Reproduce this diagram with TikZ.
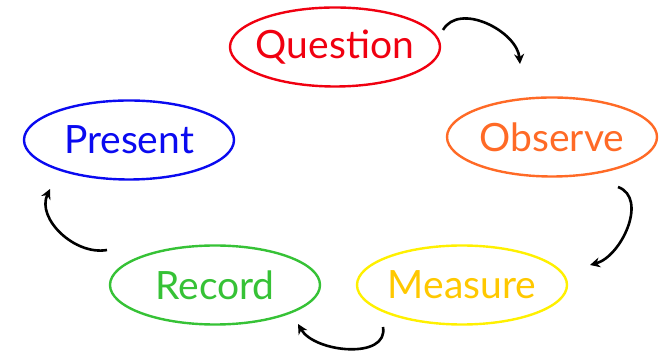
\documentclass[tikz,border=0pt]{standalone}
\usepackage{fontspec}
\setmainfont{Lato}
\usepackage{tikz}
\usetikzlibrary{positioning,arrows.meta,shapes.geometric}
\definecolor{qred}{HTML}{F00010}
\definecolor{obsorange}{HTML}{FF6A26}
\definecolor{measyellow}{HTML}{FFF000}
\definecolor{meastext}{HTML}{FFC800}
\definecolor{recgreen}{HTML}{36C236}
\definecolor{presblue}{HTML}{0A0AF0}
\tikzset{
  stage/.style={ellipse, draw, line width=2.4pt, inner sep=-20pt,
                minimum width=210pt, minimum height=79pt, font=\fontsize{39}{39}\selectfont},
  cyc/.style={-{Stealth[length=10pt,width=10pt]}, line width=2.6pt, color=black},
}

\begin{document}
\begin{tikzpicture}[x=1pt,y=1pt]
\useasboundingbox (0,0) rectangle (668,355);
% --- stages ---
\node[stage, draw=qred, text=qred] (quest) at (335,308) {Question};
\node[stage, draw=obsorange, text=obsorange] (obs) at (552,218) {Observe};
\node[stage, draw=measyellow, text=meastext] (meas) at (462,70) {Measure};
\node[stage, draw=recgreen, text=recgreen] (rec) at (215,70) {Record};
\node[stage, draw=presblue, text=presblue] (pres) at (129,215) {Present};

% --- arrow ends ---
\coordinate (a1s) at (443,325);
\coordinate (a1e) at (520,291);
\coordinate (a2s) at (618,168);
\coordinate (a2e) at (590,90);
\coordinate (a3s) at (383,28);
\coordinate (a3e) at (298,31);
\coordinate (a4s) at (107,105);
\coordinate (a4e) at (50,166);

% --- cycle ---
\draw[cyc] (a1s) to[out=60,in=95] (a1e);
\draw[cyc] (a2s) to[out=-20,in=15] (a2e);
\draw[cyc] (a3s) to[out=-80,in=-60] (a3e);
\draw[cyc] (a4s) to[out=190,in=-115] (a4e);
\end{tikzpicture}
\end{document}
